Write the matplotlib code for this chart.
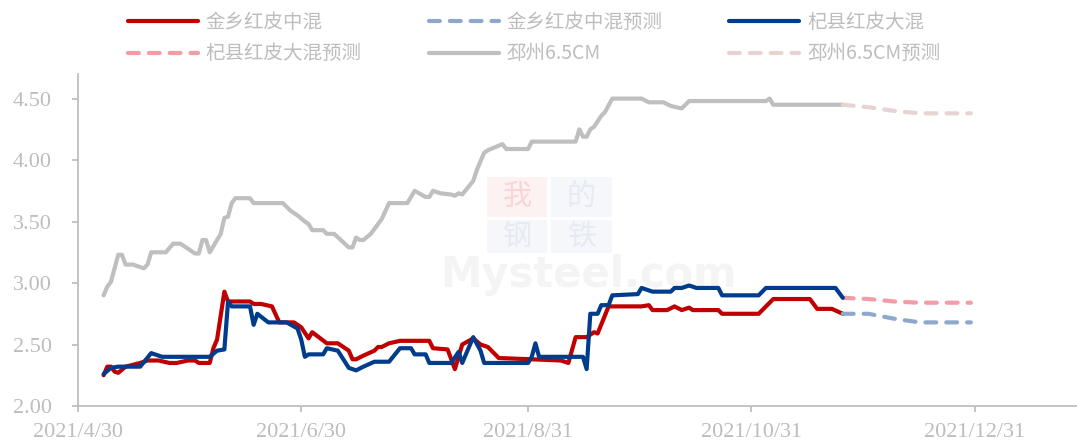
import matplotlib
matplotlib.use("Agg")
import matplotlib.pyplot as plt
import pandas as pd
from matplotlib.patches import Rectangle

# ---------------- data ----------------
jx_dates = ["05-07","05-08","05-09","05-10","05-11","05-13","05-17","05-19","05-22","05-25","05-27","05-30",
            "06-01","06-02","06-05","06-06","06-07","06-09","06-10","06-16","06-17","06-19","06-22","06-24","06-28","06-30",
            "07-02","07-03","07-07","07-10","07-13","07-14","07-15","07-17","07-20","07-21","07-22","07-24","07-27",
            "08-04","08-05","08-09","08-11","08-13","08-16","08-18","08-20","08-23",
            "09-01","09-09","09-11","09-13","09-16","09-18","09-19","09-22",
            "10-01","10-03","10-04","10-08","10-10","10-12","10-14","10-15","10-22","10-23",
            "11-02","11-06","11-16","11-18","11-22","11-25"]
jx_values = [2.25,2.32,2.32,2.28,2.27,2.32,2.35,2.37,2.37,2.35,2.35,2.37,
             2.37,2.35,2.35,2.47,2.54,2.93,2.85,2.85,2.83,2.83,2.81,2.68,2.68,2.64,
             2.55,2.60,2.51,2.51,2.45,2.38,2.38,2.41,2.45,2.48,2.48,2.51,2.53,
             2.53,2.47,2.46,2.30,2.50,2.55,2.50,2.48,2.39,
             2.38,2.37,2.35,2.56,2.56,2.60,2.59,2.81,
             2.81,2.82,2.78,2.78,2.81,2.78,2.80,2.78,2.78,2.75,
             2.75,2.87,2.87,2.79,2.79,2.75]

qx_dates = ["05-07","05-09","05-11","05-17","05-20","05-23",
            "06-05","06-07","06-09","06-10","06-11","06-16","06-17","06-18","06-21","06-26","06-29","06-30",
            "07-01","07-02","07-06","07-07","07-10","07-13","07-15","07-17","07-20","07-24","07-27","07-30","07-31",
            "08-03","08-04","08-10","08-12","08-13","08-16","08-18","08-19","08-31",
            "09-01","09-02","09-03","09-15","09-16","09-17","09-19","09-20","09-22","09-23","09-30",
            "10-01","10-04","10-09","10-10","10-12","10-14","10-16","10-22","10-23",
            "11-02","11-04","11-23","11-25"]
qx_values = [2.26,2.31,2.32,2.32,2.43,2.40,
             2.40,2.45,2.46,2.85,2.81,2.81,2.66,2.75,2.68,2.68,2.63,2.54,
             2.40,2.42,2.42,2.47,2.45,2.31,2.29,2.32,2.36,2.36,2.47,2.47,2.42,
             2.42,2.35,2.35,2.44,2.35,2.56,2.45,2.35,2.35,
             2.40,2.51,2.40,2.40,2.30,2.75,2.75,2.82,2.82,2.90,2.91,
             2.96,2.93,2.93,2.96,2.96,2.98,2.96,2.96,2.90,
             2.90,2.96,2.96,2.88]

pz_dates = ["05-07","05-08","05-09","05-11","05-12","05-13","05-15","05-18","05-19","05-20","05-24","05-26","05-28",
            "06-01","06-02","06-03","06-04","06-05","06-08","06-09","06-10","06-11","06-12","06-16","06-17","06-25","06-27","06-29",
            "07-01","07-02","07-03","07-06","07-07","07-09","07-13","07-14","07-15","07-16","07-17","07-19","07-21","07-22","07-24","07-29","07-30","07-31",
            "08-03","08-04","08-05","08-07","08-10","08-11","08-12","08-13","08-16","08-17","08-19","08-20","08-24","08-25","08-31",
            "09-01","09-13","09-14","09-15","09-16","09-17","09-18","09-20","09-21","09-23",
            "10-01","10-03","10-07","10-09","10-12","10-14",
            "11-04","11-05","11-06","11-25"]
pz_values = [2.90,2.97,3.01,3.23,3.23,3.15,3.15,3.12,3.15,3.25,3.25,3.32,3.32,
             3.24,3.24,3.35,3.35,3.25,3.40,3.53,3.54,3.65,3.69,3.69,3.65,3.65,3.59,3.55,
             3.50,3.48,3.43,3.43,3.40,3.40,3.29,3.29,3.37,3.35,3.35,3.40,3.48,3.52,3.65,3.65,3.70,3.75,
             3.70,3.70,3.75,3.73,3.72,3.71,3.73,3.72,3.83,3.92,4.06,4.08,4.13,4.09,4.09,
             4.15,4.15,4.25,4.19,4.19,4.25,4.27,4.36,4.39,4.50,
             4.50,4.47,4.47,4.44,4.42,4.48,
             4.48,4.50,4.45,4.45]

fc_dates = ["11-25","12-02","12-09","12-16","12-23","12-30"]
jx_fc_values = [2.75,2.75,2.71,2.68,2.68,2.68]
qx_fc_values = [2.88,2.87,2.85,2.84,2.84,2.84]
pz_fc_values = [4.45,4.43,4.40,4.38,4.38,4.38]

labels = ["金乡红皮中混","金乡红皮中混预测","杞县红皮大混","杞县红皮大混预测","邳州6.5CM","邳州6.5CM预测"]
xtick_dates = ["2021-04-30","2021-06-30","2021-08-31","2021-10-31","2021-12-31"]
xtick_labels = ["2021/4/30","2021/6/30","2021/8/31","2021/10/31","2021/12/31"]
ytick_values = [2.00,2.50,3.00,3.50,4.00,4.50]

for d, v in [(jx_dates, jx_values),(qx_dates, qx_values),(pz_dates, pz_values)]:
    assert len(d) == len(v), (len(d), len(v))

def to_dt(lst):
    return pd.to_datetime(["2021-" + s for s in lst])

# ---------------- style ----------------
C_RED = "#C00000"
C_NAVY = "#003C8C"
C_GRAY = "#BFBFBF"
C_LBLUE = "#8EA8CC"
C_PINK = "#F29CA6"
C_LPINK = "#E8D3D3"
TXT = "#BDBDBD"

W, H = 1077, 446
fig = plt.figure(figsize=(W/100, H/100), dpi=100)
ax = fig.add_axes([78/W, 1-406/H, 1-78/W, (406-74)/H])

lw = 3.0
common = dict(lw=lw, solid_joinstyle="round", solid_capstyle="round")
dash = dict(lw=lw, dashes=(2.6, 2.4), dash_capstyle="round", dash_joinstyle="round")

l_pz, = ax.plot(to_dt(pz_dates), pz_values, color=C_GRAY, zorder=2, **common)
l_jx, = ax.plot(to_dt(jx_dates), jx_values, color=C_RED, zorder=3, **common)
l_qx, = ax.plot(to_dt(qx_dates), qx_values, color=C_NAVY, zorder=4, **common)
l_pzf, = ax.plot(to_dt(fc_dates), pz_fc_values, color=C_LPINK, zorder=2, **dash)
l_jxf, = ax.plot(to_dt(fc_dates), jx_fc_values, color=C_LBLUE, zorder=3, **dash)
l_qxf, = ax.plot(to_dt(fc_dates), qx_fc_values, color=C_PINK, zorder=3, **dash)

ax.set_xlim(pd.Timestamp("2021-04-30"), pd.Timestamp("2022-01-28"))
ax.set_ylim(2.0, 4.70)
ax.set_xticks(pd.to_datetime(xtick_dates))
ax.set_xticklabels(xtick_labels)
ax.set_yticks(ytick_values)
ax.set_yticklabels([f"{v:.2f}" for v in ytick_values])

for s in ["top", "right"]:
    ax.spines[s].set_visible(False)
for s in ["left", "bottom"]:
    ax.spines[s].set_color(C_GRAY)
    ax.spines[s].set_linewidth(1.3)
ax.tick_params(axis="both", colors=C_GRAY, length=4, width=1.3, direction="out")
ax.tick_params(axis="y", pad=15)
ax.tick_params(axis="x", pad=8)
for t in ax.get_xticklabels() + ax.get_yticklabels():
    t.set_fontfamily("Liberation Serif")
    t.set_fontsize(16)
    t.set_color(TXT)

# watermark (faint, behind the data)
boxes = [("我", 487, 177, 60, 40, "#FDF2F2", "#F7D6D6"),
         ("的", 551, 177, 61, 40, "#F5F7FB", "#E6EAF2"),
         ("钢", 487, 220, 60, 33, "#F5F7FB", "#E6EAF2"),
         ("铁", 551, 220, 61, 33, "#F5F7FB", "#E6EAF2")]
for ch, x0, y0, bw, bh, fc, tc in boxes:
    ax.add_patch(Rectangle((x0/W, 1-(y0+bh)/H), bw/W, bh/H, transform=fig.transFigure,
                           facecolor=fc, edgecolor="none", zorder=0.1))
    ax.text((x0+bw/2)/W, 1-(y0+bh/2)/H, ch, transform=fig.transFigure, zorder=0.2,
            ha="center", va="center", family=["Noto Sans CJK SC"], fontsize=21, color=tc)
ax.text(588/W, 1-275/H, "Mysteel.com", transform=fig.transFigure, zorder=0.2,
        ha="center", va="center", fontsize=30, fontweight="bold",
        family="DejaVu Sans", color="#F4F4F4")

# legend (row-major order via column-major reordering)
handles = [l_jx, l_jxf, l_qx, l_qxf, l_pz, l_pzf]
order = [0, 3, 1, 4, 2, 5]
fig.legend([handles[i] for i in order], [labels[i] for i in order],
           ncol=3, loc="upper left", bbox_to_anchor=(116/W, 1.0),
           frameon=False, prop={"family": ["Noto Sans CJK SC", "DejaVu Sans"], "size": 14},
           labelcolor=TXT, handlelength=3.6, handletextpad=0.4,
           columnspacing=3.45, labelspacing=0.55, borderaxespad=0.2)

fig.savefig("out.png", dpi=100, facecolor="white")
